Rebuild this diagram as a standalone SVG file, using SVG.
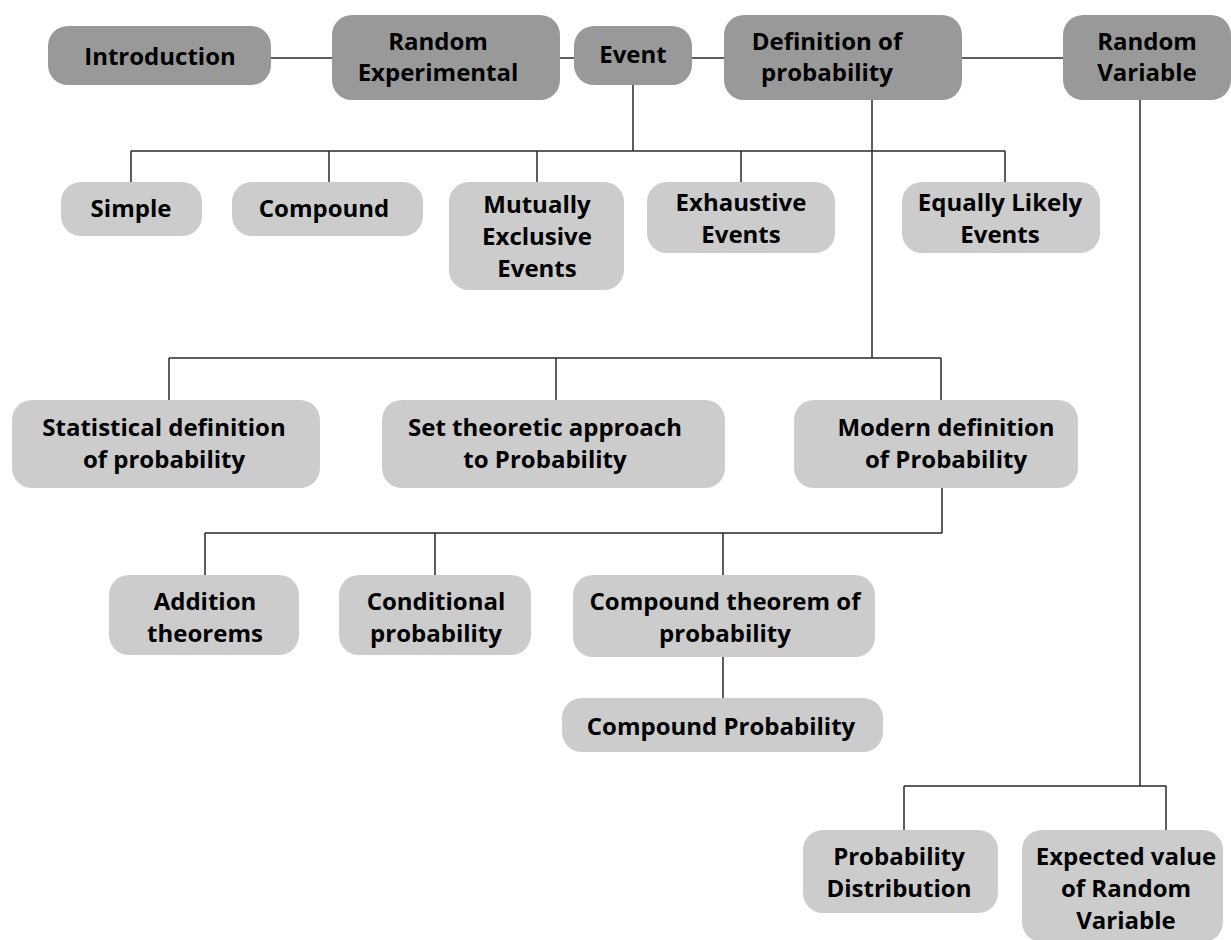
<svg xmlns="http://www.w3.org/2000/svg" width="1231" height="940" viewBox="0 0 1231 940">
<style>
.dk{fill:#999999}
.lt{fill:#cccccc}
text{font-family:"Open Sans","Noto Sans","Liberation Sans",sans-serif;font-weight:700;font-size:24px;fill:#000;text-anchor:middle}
.c{fill:none;stroke:#2a2a2a;stroke-width:1.5}
</style>
<rect width="1231" height="940" fill="#fff"/>
<g id="connectors" class="c">
<path d="M271,58H332M560,58H574M692,58H724M962,58H1063"/>
<path d="M633,85V151M131,151H1005M131,151V182M329,151V182M537,151V182M741,151V182M1005,151V182"/>
<path d="M872,100V358M169,358H941M169,358V400M556,358V400M941,358V400"/>
<path d="M942,488V533M205,533H942M205,533V575M435,533V575M723,533V575M723,657V698"/>
<path d="M1140,100V786M904,786H1166M904,786V830M1166,786V830"/>
</g>
<g id="introduction"><rect class="dk" x="48" y="26" width="223" height="59" rx="20"/><text x="160" y="65">Introduction</text></g>
<g id="random-experimental"><rect class="dk" x="332" y="15" width="228" height="85" rx="20"/><text x="438" y="50">Random</text><text x="438" y="81">Experimental</text></g>
<g id="event"><rect class="dk" x="574" y="26" width="118" height="59" rx="20"/><text x="633" y="63">Event</text></g>
<g id="definition"><rect class="dk" x="724" y="15" width="238" height="85" rx="20"/><text x="827" y="50">Definition of</text><text x="827" y="81">probability</text></g>
<g id="random-variable"><rect class="dk" x="1063" y="15" width="168" height="85" rx="20"/><text x="1147" y="50">Random</text><text x="1147" y="81">Variable</text></g>
<g id="simple"><rect class="lt" x="61" y="182" width="141" height="54" rx="20"/><text x="131" y="217">Simple</text></g>
<g id="compound"><rect class="lt" x="232" y="182" width="191" height="54" rx="20"/><text x="324" y="217">Compound</text></g>
<g id="mutually-exclusive"><rect class="lt" x="449" y="182" width="175" height="108" rx="20"/><text x="537" y="213">Mutually</text><text x="537" y="245">Exclusive</text><text x="537" y="277">Events</text></g>
<g id="exhaustive"><rect class="lt" x="647" y="182" width="188" height="71" rx="20"/><text x="741" y="211">Exhaustive</text><text x="741" y="243">Events</text></g>
<g id="equally-likely"><rect class="lt" x="902" y="182" width="198" height="71" rx="20"/><text x="1000" y="211">Equally Likely</text><text x="1000" y="243">Events</text></g>
<g id="statistical"><rect class="lt" x="12" y="400" width="308" height="88" rx="20"/><text x="164" y="436">Statistical definition</text><text x="164" y="468">of probability</text></g>
<g id="set-theoretic"><rect class="lt" x="382" y="400" width="343" height="88" rx="20"/><text x="545" y="436">Set theoretic approach</text><text x="545" y="468">to Probability</text></g>
<g id="modern"><rect class="lt" x="794" y="400" width="284" height="88" rx="20"/><text x="946" y="436">Modern definition</text><text x="946" y="468">of Probability</text></g>
<g id="addition"><rect class="lt" x="109" y="575" width="190" height="80" rx="20"/><text x="205" y="610">Addition</text><text x="205" y="642">theorems</text></g>
<g id="conditional"><rect class="lt" x="339" y="575" width="192" height="80" rx="20"/><text x="436" y="610">Conditional</text><text x="436" y="642">probability</text></g>
<g id="compound-theorem"><rect class="lt" x="573" y="575" width="302" height="82" rx="20"/><text x="725" y="610">Compound theorem of</text><text x="725" y="642">probability</text></g>
<g id="compound-probability"><rect class="lt" x="562" y="698" width="321" height="54" rx="20"/><text x="721" y="735">Compound Probability</text></g>
<g id="probability-distribution"><rect class="lt" x="803" y="830" width="195" height="83" rx="20"/><text x="899" y="865">Probability</text><text x="899" y="897">Distribution</text></g>
<g id="expected-value"><rect class="lt" x="1022" y="830" width="201" height="112" rx="20"/><text x="1126" y="865">Expected value</text><text x="1126" y="897">of Random</text><text x="1126" y="929">Variable</text></g>
</svg>
